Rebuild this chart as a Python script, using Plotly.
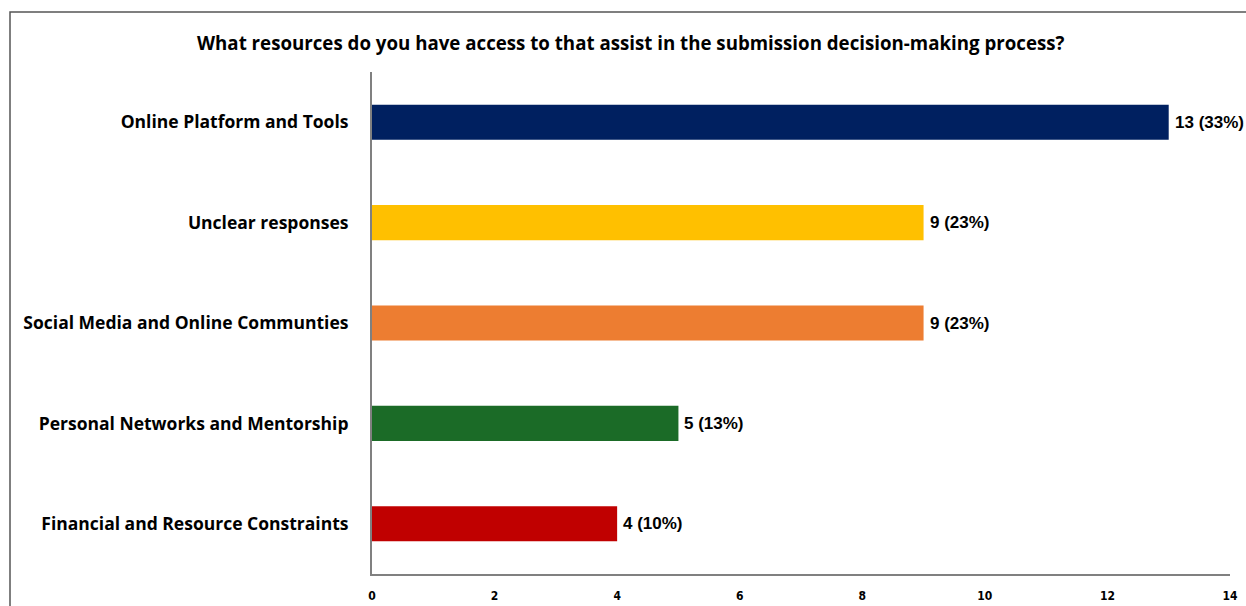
import plotly.graph_objects as go

# Survey responses: resources used for submission decisions
categories = [
    "Online Platform and Tools",
    "Unclear responses",
    "Social Media and Online Communties",
    "Personal Networks and Mentorship",
    "Financial and Resource Constraints",
]
counts = [13, 9, 9, 5, 4]
percents = [33, 23, 23, 13, 10]
colors = ["#002060", "#FFC000", "#ED7D31", "#1B6B27", "#C00000"]
x_ticks = [0, 2, 4, 6, 8, 10, 12, 14]

labels = [f"{c} ({p}%)" for c, p in zip(counts, percents)]

fig = go.Figure(
    go.Bar(
        y=categories,
        x=counts,
        orientation="h",
        marker=dict(color=colors, line=dict(width=0)),
        width=0.35,
    )
)

# Value labels to the right of each bar
for cat, val, lab in zip(categories, counts, labels):
    fig.add_annotation(
        x=val, y=cat, xref="x", yref="y",
        text=f"<b>{lab}</b>",
        xanchor="left", yanchor="middle",
        xshift=4, showarrow=False,
        font=dict(family="Liberation Sans", size=17, color="#000000"),
    )

fig.update_layout(
    width=1246,
    height=606,
    margin=dict(l=372, r=16, t=72, b=32),
    paper_bgcolor="white",
    plot_bgcolor="white",
    showlegend=False,
    font=dict(family="Open Sans", color="#000000"),
)

fig.update_xaxes(
    range=[0, 14],
    tickvals=x_ticks,
    automargin=False,
    showgrid=False,
    zeroline=False,
    showline=True,
    linecolor="#808080",
    linewidth=2,
    ticks="",
    ticklabelstandoff=10,
    tickfont=dict(family="DejaVu Sans Condensed", size=12, color="#000000", weight="bold"),
)

fig.update_yaxes(
    autorange="reversed",
    automargin=False,
    showgrid=False,
    showline=True,
    linecolor="#808080",
    linewidth=2,
    ticks="",
    ticklabelstandoff=18,
    tickfont=dict(family="Open Sans", size=17.5, color="#000000", weight="bold"),
)

fig.add_annotation(
    text="<b>What resources do you have access to that assist in the submission decision-making process?</b>",
    xref="paper", yref="paper",
    x=(631 - 372) / 858, y=(574 - 42) / 502,
    xanchor="center", yanchor="middle",
    showarrow=False,
    font=dict(family="Open Sans", size=18.7, color="#000000"),
)

# Outer frame around the chart area
fig.add_shape(
    type="rect",
    xref="paper", yref="paper",
    x0=(10 - 372) / 858, x1=(1260 - 372) / 858,
    y0=(574 - 620) / 502, y1=(574 - 12) / 502,
    line=dict(color="#555555", width=1.5),
    fillcolor="rgba(0,0,0,0)",
    layer="below",
)

fig.write_html("out.html")
